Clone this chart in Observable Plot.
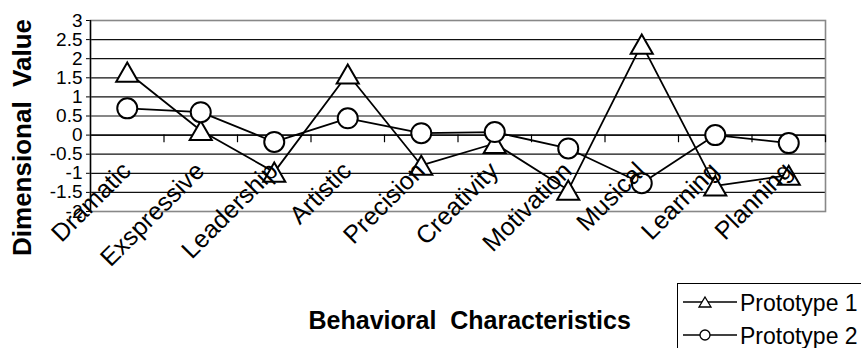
<!DOCTYPE html>
<html>
<head>
<meta charset="utf-8">
<script src="https://cdn.jsdelivr.net/npm/d3@7"></script>
<script src="https://cdn.jsdelivr.net/npm/@observablehq/plot@0.6"></script>
<style>
  html, body { margin: 0; padding: 0; background: #fff; overflow: hidden; }
  #wrap { position: relative; width: 861px; height: 348px; font-family: "Liberation Sans", Arial, sans-serif; }
  #legend { position: absolute; left: 677px; top: 283px; }
</style>
</head>
<body>
<div id="wrap"></div>
<script>
// ---- data ----
const categories = ["Dramatic", "Exspressive", "Leadership", "Artistic", "Precision", "Creativity", "Motivation", "Musical", "Learning", "Planning"];
const prototype1 = [1.65, 0.12, -0.97, 1.6, -0.79, -0.22, -1.44, 2.38, -1.33, -1.05];
const prototype2 = [0.7, 0.6, -0.18, 0.44, 0.05, 0.08, -0.35, -1.26, 0.0, -0.21];
const seriesNames = ["Prototype 1", "Prototype 2"];
const yTicks = [-2, -1.5, -1, -0.5, 0, 0.5, 1, 1.5, 2, 2.5, 3];
const yTitle = "Dimensional\u00a0\u00a0Value";
const xTitle = "Behavioral\u00a0\u00a0Characteristics";

const rows = categories.map((c, i) => ({cat: c, pos: i + 0.5, p1: prototype1[i], p2: prototype2[i]}));
const boundaries = categories.map((_, i) => i + 1);

// triangle centred on its bounding box (Excel style marker)
const triBox = {
  draw(ctx, size) {
    const y = Math.sqrt(size / (3 * Math.sqrt(3)));
    const hh = 1.5 * y, hw = Math.sqrt(3) * y;
    ctx.moveTo(0, -hh);
    ctx.lineTo(hw, hh);
    ctx.lineTo(-hw, hh);
    ctx.closePath();
  }
};

const font = "Liberation Sans, Arial, sans-serif";

const chart = Plot.plot({
  width: 861,
  height: 348,
  marginLeft: 90,
  marginRight: 36,
  marginTop: 20,
  marginBottom: 137,
  style: {fontFamily: font, fontSize: "19px", color: "black", background: "white", overflow: "visible"},
  x: {domain: [0, categories.length], axis: null},
  y: {domain: [-2, 3], ticks: yTicks, tickFormat: d => String(d), tickSize: 4, tickPadding: 4, label: null},
  marks: [
    Plot.ruleY(yTicks.filter(t => t > -2 && t < 3), {stroke: "#111", strokeWidth: 1.2}),
    Plot.frame({stroke: "#888", strokeWidth: 1.6}),
    Plot.ruleX([0], {stroke: "black", strokeWidth: 1.4}),
    Plot.ruleY([0], {stroke: "black", strokeWidth: 1.4}),
    Plot.ruleX(boundaries, {y1: 0, y2: -0.2, stroke: "black", strokeWidth: 1.2}),
    Plot.line(rows, {x: "pos", y: "p1", stroke: "black", strokeWidth: 1.8}),
    Plot.dot(rows, {x: "pos", y: "p1", symbol: triBox, r: 8.2, fill: "white", stroke: "black", strokeWidth: 2}),
    Plot.line(rows, {x: "pos", y: "p2", stroke: "black", strokeWidth: 1.8}),
    Plot.dot(rows, {x: "pos", y: "p2", r: 10, fill: "white", stroke: "black", strokeWidth: 2}),
    Plot.text(rows, {x: "pos", text: "cat", frameAnchor: "top", dy: 152, dx: 5, rotate: -45, textAnchor: "end", lineAnchor: "bottom", fontSize: 25, fill: "black"}),
    Plot.text([yTitle], {frameAnchor: "middle", rotate: -90, dx: -427.5, dy: 21.5, lineAnchor: "bottom", fontSize: 26, fontWeight: "bold", fill: "black"}),
    Plot.text([xTitle], {frameAnchor: "bottom", textAnchor: "start", dx: -149.5, dy: 117, lineAnchor: "bottom", fontSize: 25, fontWeight: "bold", fill: "black"})
  ]
});

const wrap = document.getElementById("wrap");
wrap.appendChild(chart);

// legend
const ns = "http://www.w3.org/2000/svg";
const leg = document.createElementNS(ns, "svg");
leg.setAttribute("id", "legend");
leg.setAttribute("width", 200);
leg.setAttribute("height", 70);
leg.innerHTML = `<rect x="0.5" y="0.5" width="240" height="90" fill="white" stroke="black" stroke-width="1"/>`;
seriesNames.forEach((name, i) => {
  const cy = 19 + i * 33;
  const g = document.createElementNS(ns, "g");
  const mx = 28;
  let marker = i === 0
    ? `<path d="M${mx},${cy - 5} L${mx + 6},${cy + 5} L${mx - 6},${cy + 5} Z" fill="white" stroke="black" stroke-width="1.3"/>`
    : `<circle cx="${mx}" cy="${cy}" r="5" fill="white" stroke="black" stroke-width="1.3"/>`;
  g.innerHTML = `<line x1="6" x2="60" y1="${cy}" y2="${cy}" stroke="black" stroke-width="1.6"/>${marker}
    <text x="63" y="${cy + 9}" font-family="${font}" font-size="23" fill="black">${name}</text>`;
  leg.appendChild(g);
});
wrap.appendChild(leg);
</script>
</body>
</html>
